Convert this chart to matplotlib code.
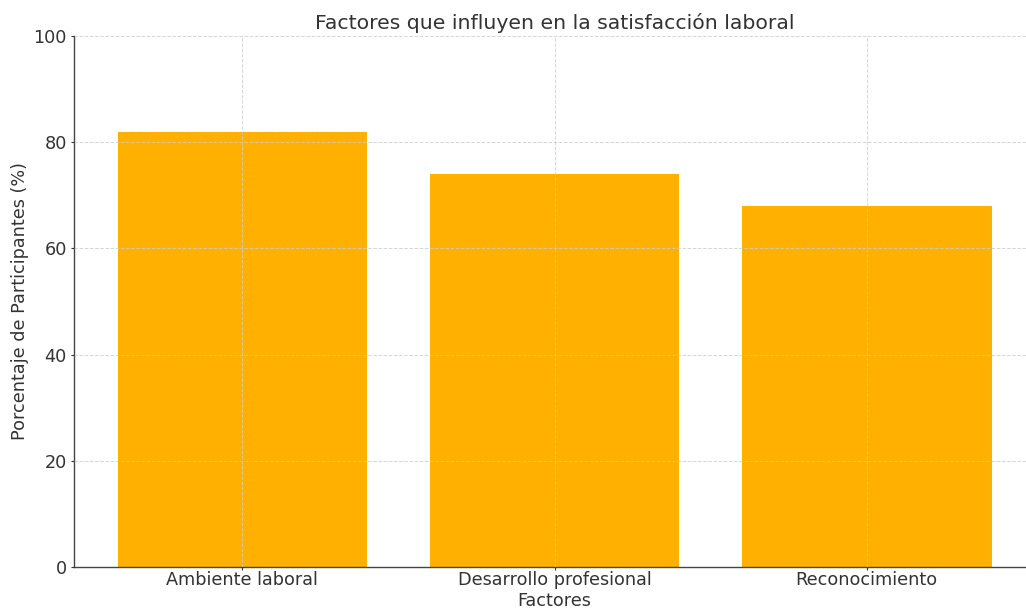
import matplotlib
matplotlib.use("Agg")
import matplotlib.pyplot as plt

plt.rcParams['font.family'] = ['DejaVu Sans']

factores = ['Ambiente laboral', 'Desarrollo profesional', 'Reconocimiento']
porcentajes = [82, 74, 68]

TXT = '#333333'
fig = plt.figure(figsize=(10.26, 6.11), dpi=100)
ax = fig.add_axes([0.072, 0.072, 0.937, 0.869])
ax.bar(factores, porcentajes, width=0.8, color='#FFB000', zorder=1)
ax.set_ylim(0, 100)
ax.set_xlim(-0.54, 2.54)
ax.grid(True, linestyle='--', color='#cccccc', linewidth=0.7, alpha=0.8, zorder=2)
ax.set_axisbelow(False)
for s in ['top', 'right']:
    ax.spines[s].set_visible(False)
for s in ['left', 'bottom']:
    ax.spines[s].set_color('#444444')
    ax.spines[s].set_linewidth(1.0)
ax.tick_params(colors=TXT, labelsize=12.7, length=2, pad=3)
ax.tick_params(axis='x', pad=1)
ax.set_title('Factores que influyen en la satisfacción laboral', fontsize=14.7, color=TXT, pad=5)
ax.set_xlabel('Factores', fontsize=12.7, color=TXT, labelpad=2)
ax.set_ylabel('Porcentaje de Participantes (%)', fontsize=12.7, color=TXT, labelpad=3)
fig.savefig('out.png', dpi=100)
